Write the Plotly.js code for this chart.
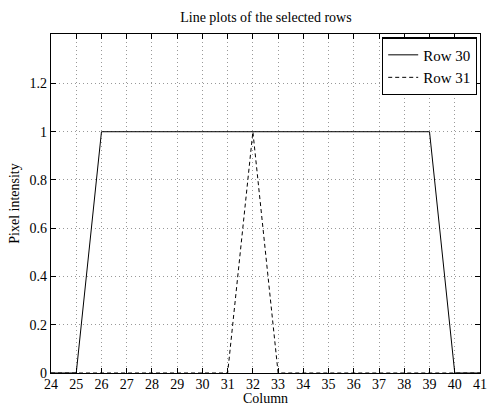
<!DOCTYPE html>
<html><head><meta charset="utf-8">
<script src="https://cdn.plot.ly/plotly-3.0.1.min.js"></script>
<style>html,body{margin:0;padding:0;background:#fff}#c{width:488px;height:406px}</style>
</head><body><div id="c"></div>
<script>
const columns = [24,25,26,27,28,29,30,31,32,33,34,35,36,37,38,39,40,41];
const row30 = [0,0,1,1,1,1,1,1,1,1,1,1,1,1,1,1,0,0];
const row31 = [0,0,0,0,0,0,0,0,1,0,0,0,0,0,0,0,0,0];
const seriesNames = ['Row 30','Row 31'];
const yTicks = [0,0.2,0.4,0.6,0.8,1,1.2];
const yTickText = ['0','0.2','0.4','0.6','0.8','1','1.2'];

const FAM = 'Liberation Serif';
function f(size){ return {family:FAM, size:size, color:'#000'}; }
const traces = [
 {x:columns, y:row30, name:seriesNames[0], mode:'lines', line:{color:'#000', width:1, dash:'solid'}},
 {x:columns, y:row31, name:seriesNames[1], mode:'lines', line:{color:'#000', width:1, dash:'4px,3px'}}
];
const axisCommon = {showline:true, linecolor:'#000', linewidth:1.2, mirror:'allticks', ticks:'inside', ticklen:5, tickcolor:'#000', tickwidth:1, showgrid:true, gridcolor:'#999', griddash:'1px,3px', gridwidth:1, zeroline:false, tickfont:f(14)};
const layout = {
 width:488, height:406,
 margin:{l:51, r:8, t:34, b:33},
 paper_bgcolor:'#fff', plot_bgcolor:'#fff',
 font:f(14),
 title:{text:'Line plots of the selected rows', font:f(14), x:0.545, xanchor:'center', y:0.957, yanchor:'middle'},
 xaxis:Object.assign({}, axisCommon, {range:[24,41], tickmode:'array', tickvals:columns, ticktext:columns.map(String), ticklabelstandoff:-2, title:{text:'Column', font:f(14), standoff:0}}),
 yaxis:Object.assign({}, axisCommon, {range:[0,1.405], tickmode:'array', tickvals:yTicks, ticktext:yTickText, title:{text:'Pixel intensity', font:f(14), standoff:6}}),
 legend:{x:0.993, y:0.99, xanchor:'right', yanchor:'top', bgcolor:'#fff', bordercolor:'#000', borderwidth:1.2, font:f(15), tracegroupgap:0, itemwidth:30},
 showlegend:true
};
Plotly.newPlot('c', traces, layout, {displayModeBar:false, staticPlot:true});
</script></body></html>
